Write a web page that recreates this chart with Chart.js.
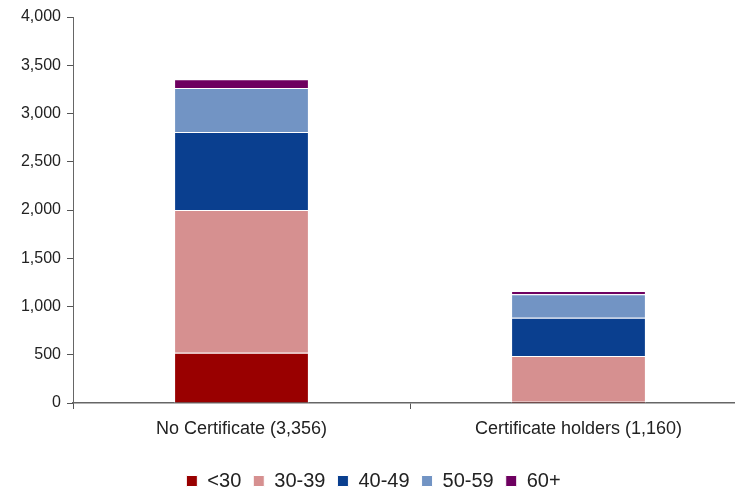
<!DOCTYPE html>
<html>
<head>
<meta charset="utf-8">
<script src="https://cdn.jsdelivr.net/npm/chart.js@4"></script>
<style>
  html, body { margin: 0; padding: 0; background: #fff; overflow: hidden; }
  #wrap { width: 747px; height: 493px; }
</style>
</head>
<body>
<div id="wrap"><canvas id="barChart"></canvas></div>
<script>
const categories = ['No Certificate (3,356)', 'Certificate holders (1,160)'];
const ageGroups = ['<30', '30-39', '40-49', '50-59', '60+'];
const under30 = [520, 20];
const age30to39 = [1480, 467];
const age40to49 = [808, 397];
const age50to59 = [456, 242];
const age60plus = [92, 34];
const yTicks = [0, 500, 1000, 1500, 2000, 2500, 3000, 3500, 4000];

const colors = ['#990000', '#D69090', '#0A3F8F', '#7294C4', '#6E0060'];
const series = [under30, age30to39, age40to49, age50to59, age60plus];

const data = {
    labels: categories,
    datasets: series.map((vals, i) => ({
        label: ageGroups[i],
        data: vals,
        backgroundColor: colors[i],
        borderColor: '#ffffff',
        borderWidth: 1,
        categoryPercentage: 1,
        barPercentage: 0.4
    }))
};

const family = 'Liberation Sans, Arial, sans-serif';

new Chart(document.getElementById('barChart'), {
    type: 'bar',
    data: data,
    options: {
        responsive: true,
        maintainAspectRatio: false,
        animation: false,
        layout: { padding: { top: 17, left: 0, right: 0, bottom: -8 } },
        scales: {
            x: {
                stacked: true,
                afterFit: axis => { axis.height = 56; },
                grid: { drawOnChartArea: false, offset: true, tickLength: 6, color: '#555' },
                border: { color: '#666', width: 1.5 },
                ticks: { color: '#222', font: { family: family, size: 18 }, padding: 9 }
            },
            y: {
                stacked: true,
                min: 0,
                max: 4000,
                afterBuildTicks: axis => { axis.ticks = yTicks.map(v => ({ value: v })); },
                afterFit: axis => { axis.width = 73; },
                grid: { drawOnChartArea: false, tickLength: 6, color: '#555' },
                border: { color: '#666', width: 1 },
                ticks: {
                    color: '#222',
                    font: { family: family, size: 16 },
                    padding: 6,
                    callback: v => v.toLocaleString('en-US')
                }
            }
        },
        plugins: {
            legend: {
                position: 'bottom',
                labels: {
                    color: '#222',
                    font: { family: family, size: 20 },
                    boxWidth: 11,
                    boxHeight: 11,
                    padding: 12
                }
            },
            tooltip: { enabled: false }
        }
    }
});
</script>
</body>
</html>
